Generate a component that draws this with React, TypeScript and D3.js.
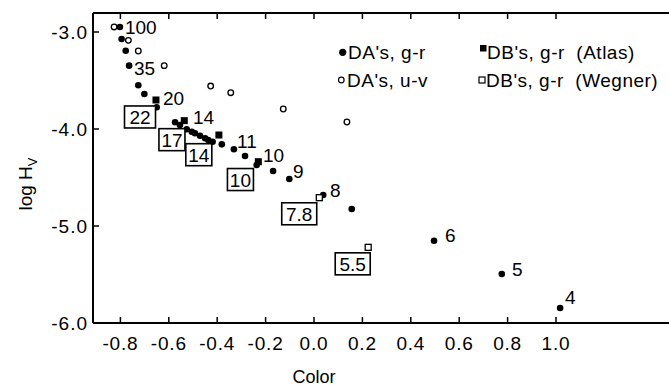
import React from 'react';
import * as d3 from 'd3';

const W = 669;
const H = 388;
const FRAME = { left: 93, top: 13, right: 669, bottom: 323 };
const FONT = '"Liberation Sans", Arial, sans-serif';

const xTicks = [-0.8, -0.6, -0.4, -0.2, 0.0, 0.2, 0.4, 0.6, 0.8, 1.0];
const xTickLabels = ['-0.8', '-0.6', '-0.4', '-0.2', '0.0', '0.2', '0.4', '0.6', '0.8', '1.0'];
const yTicks = [-3, -4, -5, -6];
const yTickLabels = ['-3.0', '-4.0', '-5.0', '-6.0'];

// DA's, g-r (filled circles): [color, log Hv]
const daGR: [number, number][] = [
  [-0.802, -2.948], [-0.795, -3.072], [-0.778, -3.193], [-0.764, -3.347],
  [-0.726, -3.549], [-0.701, -3.639], [-0.650, -3.776], [-0.574, -3.931],
  [-0.554, -3.959], [-0.526, -4.003], [-0.505, -4.028], [-0.492, -4.044],
  [-0.471, -4.069], [-0.450, -4.096], [-0.437, -4.113], [-0.419, -4.131],
  [-0.381, -4.158], [-0.331, -4.209], [-0.285, -4.278], [-0.237, -4.371],
  [-0.169, -4.433], [-0.102, -4.515], [0.038, -4.680], [0.156, -4.825],
  [0.496, -5.152], [0.776, -5.495], [1.017, -5.845],
];
// DB's, g-r (Atlas) filled squares
const dbAtlas: [number, number][] = [
  [-0.653, -3.701], [-0.536, -3.914], [-0.393, -4.062], [-0.230, -4.337],
];
// DA's, u-v open circles
const daUV: [number, number][] = [
  [-0.826, -2.948], [-0.767, -3.086], [-0.726, -3.196], [-0.619, -3.347],
  [-0.427, -3.557], [-0.344, -3.626], [-0.127, -3.794], [0.136, -3.928],
];
// DB's, g-r (Wegner) open squares
const dbWegner: [number, number][] = [
  [0.022, -4.708], [0.224, -5.220],
];

// Temperature annotations (left edge / vertical centre in data units)
const tempLabels = [
  { t: '100', c: -0.781, h: -2.948 },
  { t: '35', c: -0.744, h: -3.371 },
  { t: '20', c: -0.624, h: -3.680 },
  { t: '14', c: -0.500, h: -3.876 },
  { t: '11', c: -0.318, h: -4.124 },
  { t: '10', c: -0.211, h: -4.268 },
  { t: '9', c: -0.087, h: -4.433 },
  { t: '8', c: 0.066, h: -4.629 },
  { t: '6', c: 0.541, h: -5.090 },
  { t: '5', c: 0.818, h: -5.443 },
  { t: '4', c: 1.037, h: -5.737 },
];
// Boxed annotations (centre in data units)
const boxedLabels = [
  { t: '22', c: -0.719, h: -3.876 },
  { t: '17', c: -0.587, h: -4.110 },
  { t: '14', c: -0.476, h: -4.265 },
  { t: '10', c: -0.304, h: -4.521 },
  { t: '7.8', c: -0.061, h: -4.874 },
  { t: '5.5', c: 0.160, h: -5.390 },
];

const charW = (ch: string) => (ch === '1' ? 6 : ch === '.' ? 4 : 11);

export default function App() {
  const x = d3.scaleLinear().domain([-0.8, 1.0]).range([120.4, 556]);
  const y = d3.scaleLinear().domain([-3, -6]).range([32, 323]);
  const fs = 19;

  return (
    <svg width={W} height={H} style={{ position: 'absolute', left: 0, top: 0, background: '#fff' }}
      fontFamily={FONT}>
      {/* frame */}
      <g stroke="#000" strokeWidth={2} fill="none">
        <line x1={FRAME.left} y1={FRAME.top} x2={FRAME.left} y2={FRAME.bottom} />
        <line x1={FRAME.left} y1={FRAME.bottom} x2={FRAME.right} y2={FRAME.bottom} />
        <line x1={FRAME.left} y1={FRAME.top} x2={FRAME.right} y2={FRAME.top} />
      </g>
      {/* x ticks */}
      {xTicks.map((v, i) => (
        <g key={'xt' + i}>
          <line x1={x(v)} x2={x(v)} y1={FRAME.bottom} y2={FRAME.bottom - 6} stroke="#000" strokeWidth={1.5} />
          <line x1={x(v)} x2={x(v)} y1={FRAME.top} y2={FRAME.top + 6} stroke="#000" strokeWidth={1.5} />
          <text x={x(v)} y={350} textAnchor="middle" fontSize={fs} letterSpacing={0.8}>{xTickLabels[i]}</text>
        </g>
      ))}
      {/* y ticks */}
      {yTicks.map((v, i) => (
        <g key={'yt' + i}>
          <line x1={FRAME.left} x2={FRAME.left + 6} y1={y(v)} y2={y(v)} stroke="#000" strokeWidth={1.5} />
          <text x={88} y={y(v) + 7} textAnchor="end" fontSize={fs} letterSpacing={1}>{yTickLabels[i]}</text>
        </g>
      ))}
      {/* axis titles */}
      <text x={314} y={383} textAnchor="middle" fontSize={18}>Color</text>
      <text transform="translate(32,184) rotate(-90)" textAnchor="middle" fontSize={19}>
        log H<tspan fontSize={13} dy={5}>V</tspan>
      </text>

      {/* data */}
      {daUV.map((d, i) => (
        <circle key={'uv' + i} cx={x(d[0])} cy={y(d[1])} r={2.8} fill="#fff" stroke="#000" strokeWidth={1.3} />
      ))}
      {daGR.map((d, i) => (
        <circle key={'gr' + i} cx={x(d[0])} cy={y(d[1])} r={3.3} fill="#000" />
      ))}
      {dbAtlas.map((d, i) => (
        <rect key={'at' + i} x={x(d[0]) - 3.5} y={y(d[1]) - 3.5} width={7} height={7} fill="#000" />
      ))}
      {dbWegner.map((d, i) => (
        <rect key={'we' + i} x={x(d[0]) - 3} y={y(d[1]) - 3} width={6} height={6} fill="#fff" stroke="#000" strokeWidth={1.3} />
      ))}

      {/* temperature labels */}
      {tempLabels.map((l, i) => (
        <text key={'tl' + i} x={x(l.c)} y={y(l.h) + 7} fontSize={fs}>{l.t}</text>
      ))}
      {/* boxed labels */}
      {boxedLabels.map((l, i) => {
        const w = l.t.split('').reduce((s, ch) => s + charW(ch), 0) + 9;
        const h = 22;
        const cx = x(l.c);
        const cy = y(l.h);
        return (
          <g key={'bl' + i}>
            <rect x={cx - w / 2} y={cy - h / 2} width={w} height={h} fill="#fff" stroke="#000" strokeWidth={1.6} />
            <text x={cx} y={cy + 7} textAnchor="middle" fontSize={fs}>{l.t}</text>
          </g>
        );
      })}

      {/* legend */}
      <g fontSize={19} letterSpacing={0.5}>
        <circle cx={342.7} cy={52.3} r={3.6} fill="#000" />
        <text x={348} y={59}>DA's, g-r</text>
        <rect x={480} y={45} width={6.5} height={6.5} fill="#000" />
        <text x={487} y={59}>{"DB's, g-r \u00a0(Atlas)"}</text>
        <circle cx={341.3} cy={80} r={2.8} fill="#fff" stroke="#000" strokeWidth={1.2} />
        <text x={347} y={86.5}>DA's, u-v</text>
        <rect x={479} y={77} width={6} height={6} fill="#fff" stroke="#000" strokeWidth={1.2} />
        <text x={486} y={86.5}>{"DB's, g-r \u00a0(Wegner)"}</text>
      </g>
    </svg>
  );
}
